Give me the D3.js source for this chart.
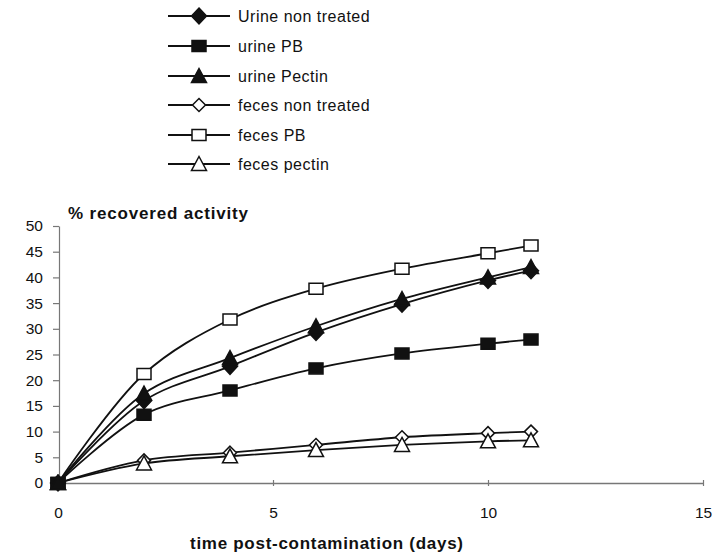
<!DOCTYPE html>
<html>
<head>
<meta charset="utf-8">
<script src="https://cdn.jsdelivr.net/npm/d3@7"></script>
<style>
  html, body { margin: 0; padding: 0; background: #fff; }
  svg { display: block; font-family: "Liberation Sans", Arial, sans-serif; }
</style>
</head>
<body>
<svg id="chart" width="720" height="555"></svg>
<script>
// Days after contamination
const days = [0, 2, 4, 6, 8, 10, 11];

// % recovered activity per series
const urineNonTreated = [0, 16.0, 22.7, 29.3, 34.8, 39.4, 41.3];
const urinePB         = [0, 13.3, 18.0, 22.3, 25.2, 27.1, 27.9];
const urinePectin     = [0, 17.4, 24.3, 30.5, 35.8, 40.0, 42.0];
const fecesNonTreated = [0, 4.4, 5.9, 7.4, 8.9, 9.7, 10.0];
const fecesPB         = [0, 21.2, 31.8, 37.8, 41.7, 44.7, 46.2];
const fecesPectin     = [0, 3.8, 5.2, 6.4, 7.4, 8.1, 8.3];

const seriesNames = ["Urine non treated", "urine PB", "urine Pectin",
                     "feces non treated", "feces PB", "feces pectin"];
const seriesValues = [urineNonTreated, urinePB, urinePectin,
                      fecesNonTreated, fecesPB, fecesPectin];
const seriesMarkers = ["diamond", "square", "triangle", "diamond", "square", "triangle"];
const seriesFilled = [true, true, true, false, false, false];

const xTicks = [0, 5, 10, 15];
const yTicks = [0, 5, 10, 15, 20, 25, 30, 35, 40, 45, 50];

const svg = d3.select("#chart");
const ink = "#111";

const x = d3.scaleLinear().domain([0, 15]).range([58, 703]);
const y = d3.scaleLinear().domain([0, 50]).range([483, 226]);

// Marker path generator (centered at 0,0)
function markerPath(kind, filled) {
  const p = d3.path();
  if (kind === "diamond") {
    const w = filled ? 7.5 : 6.5, h = filled ? 8 : 6.5;
    p.moveTo(0, -h); p.lineTo(w, 0); p.lineTo(0, h); p.lineTo(-w, 0); p.closePath();
  } else if (kind === "square") {
    const w = 7, h = 5.5;
    p.rect(-w, -h, 2 * w, 2 * h);
  } else {
    const w = 7.5, h = 6.5;
    p.moveTo(0, -h - 1); p.lineTo(w, h); p.lineTo(-w, h); p.closePath();
  }
  return p.toString();
}

// Axes
const yAxis = d3.axisLeft(y).tickValues(yTicks).tickSize(6).tickPadding(10).tickSizeOuter(0);
const gy = svg.append("g").attr("transform", `translate(${x(0) + 1},0)`).call(yAxis);
gy.select(".domain").attr("stroke", "#777").attr("stroke-width", 1.2);
gy.selectAll(".tick line").attr("stroke", "#777").attr("stroke-width", 1.2);
gy.selectAll(".tick text").attr("fill", ink).style("font-size", "15.5px")
  .style("font-family", "Liberation Sans, Arial, sans-serif");

const xAxis = d3.axisBottom(x).tickValues(xTicks).tickSize(4).tickPadding(20).tickSizeOuter(0);
const gx = svg.append("g").attr("transform", `translate(0,${y(0)})`).call(xAxis);
gx.select(".domain").attr("stroke", "#777").attr("stroke-width", 1.5);
gx.selectAll(".tick line").attr("stroke", "#777").attr("stroke-width", 1.2).attr("y1", -3).attr("y2", 3);
gx.selectAll(".tick text").attr("fill", ink).style("font-size", "15.5px")
  .style("font-family", "Liberation Sans, Arial, sans-serif");

// Axis titles
svg.append("text").attr("x", 68).attr("y", 219)
  .attr("font-size", 17).attr("font-weight", "bold").attr("fill", ink)
  .attr("textLength", 180).attr("lengthAdjust", "spacing")
  .text("% recovered activity");
svg.append("text").attr("x", 190).attr("y", 549)
  .attr("font-size", 17).attr("font-weight", "bold").attr("fill", ink)
  .attr("textLength", 273).attr("lengthAdjust", "spacing")
  .text("time post-contamination (days)");

// Smoothed series lines
const line = d3.line()
  .x((d, i) => x(days[i]))
  .y(d => y(d))
  .curve(d3.curveCatmullRom.alpha(0.5));

// Open markers first so filled ones sit on top at the origin
const drawOrder = [3, 5, 4, 1, 0, 2];
drawOrder.forEach(si => {
  svg.append("path").datum(seriesValues[si])
    .attr("d", line).attr("fill", "none")
    .attr("stroke", ink).attr("stroke-width", 1.8);
});
drawOrder.forEach(si => {
  svg.append("g").selectAll("path").data(seriesValues[si]).join("path")
    .attr("transform", (d, i) => `translate(${x(days[i])},${y(d)})`)
    .attr("d", markerPath(seriesMarkers[si], seriesFilled[si]))
    .attr("fill", seriesFilled[si] ? ink : "#fff")
    .attr("stroke", ink).attr("stroke-width", 1.5);
});

// Legend
const legendY = [16, 46, 76, 105, 135, 164];
const lg = svg.append("g");
seriesNames.forEach((name, i) => {
  const row = lg.append("g").attr("transform", `translate(0,${legendY[i]})`);
  row.append("line").attr("x1", 168).attr("x2", 230).attr("y1", 0).attr("y2", 0)
    .attr("stroke", ink).attr("stroke-width", 1.8);
  row.append("path").attr("transform", "translate(199,0)")
    .attr("d", markerPath(seriesMarkers[i], seriesFilled[i]))
    .attr("fill", seriesFilled[i] ? ink : "#fff")
    .attr("stroke", ink).attr("stroke-width", 1.5);
  row.append("text").attr("x", 238).attr("y", 6)
    .attr("font-size", 16).attr("letter-spacing", 0.5).attr("fill", ink).text(name);
});
</script>
</body>
</html>
